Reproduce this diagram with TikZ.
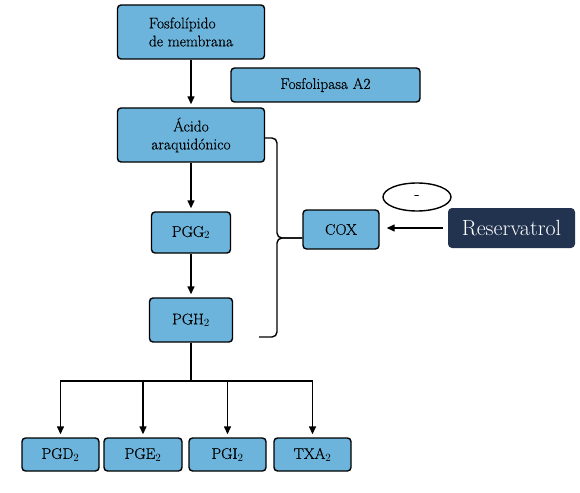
\documentclass[tikz,border=0pt]{standalone}
\usepackage{fontspec}
\newfontfamily\boxfont{Latin Modern Roman}[FakeBold=0.4]
\usetikzlibrary{shapes.geometric,arrows.meta}
\definecolor{boxblue}{HTML}{6CB4DC}
\definecolor{navy}{HTML}{22334F}
\begin{document}
\begin{tikzpicture}[x=1pt,y=-1pt,
  box/.style={draw=black,line width=1.4pt,rounded corners=3.5pt,fill=boxblue,inner sep=0pt,
    font=\boxfont\fontsize{15.5}{18}\selectfont},
  arr/.style={line width=1.4pt,-{Triangle[length=8pt,width=7pt]},shorten >=3pt},
  ln/.style={line width=1.4pt}]
\useasboundingbox (0,0) rectangle (580,492);
\node[box,minimum width=147pt,minimum height=54pt,align=left] (fos) at (191,32) {Fosfolípido\\de membrana};
\node[box,minimum width=189pt,minimum height=34pt] (pla) at (325.5,85) {Fosfolipasa A2};
\node[box,minimum width=147pt,minimum height=54pt,align=center] (ac) at (191,135) {Ácido\\araquidónico};
\node[box,minimum width=79pt,minimum height=41pt] (pgg) at (191,232.5) {PGG$_2$};
\node[box,minimum width=83pt,minimum height=44pt] (pgh) at (191,320) {PGH$_2$};
\node[box,minimum width=76pt,minimum height=39pt] (cox) at (341,229.5) {COX};
\node[draw=black,line width=1.4pt,ellipse,minimum width=68pt,minimum height=28pt,inner sep=0pt,
  font=\boxfont\fontsize{15.5}{18}\selectfont] (ell) at (417,197) {\raisebox{-3pt}{-}};
\node[fill=navy,rounded corners=4pt,minimum width=127pt,minimum height=40pt,inner sep=0pt,
  text=white,font=\fontsize{22}{26}\selectfont] (res) at (511.5,228) {Reservatrol};
\node[box,minimum width=77pt,minimum height=33pt] (pgd) at (60.5,454.5) {PGD$_2$};
\node[box,minimum width=78pt,minimum height=33pt] (pge) at (143,454.5) {PGE$_2$};
\node[box,minimum width=77pt,minimum height=33pt] (pgi) at (227.5,454.5) {PGI$_2$};
\node[box,minimum width=77pt,minimum height=33pt] (txa) at (312.5,454.5) {TXA$_2$};
\coordinate (tip) at (277,238);
\coordinate (bb) at (259,337);
\coordinate (hub) at (191,381);
\draw[arr] (fos) -- (ac);
\draw[arr] (ac) -- (pgg);
\draw[arr] (pgg) -- (pgh);
\draw[arr,shorten <=5pt,shorten >=7pt] (res.west) -- (res.west -| cox.east);
\draw[ln,rounded corners=5pt] ([yshift=-3pt]ac.east) -| (tip) -- (tip -| cox.west);
\draw[ln,rounded corners=5pt] (tip -| cox.west) -- (tip) |- (bb);
\draw[ln] (pgh.south) -- (hub);
\draw[arr] (hub) -| (pgd.north);
\draw[arr] (hub) -| (pge.north);
\draw[arr] (hub) -| (pgi.north);
\draw[arr] (hub) -| (txa.north);
\end{tikzpicture}
\end{document}
